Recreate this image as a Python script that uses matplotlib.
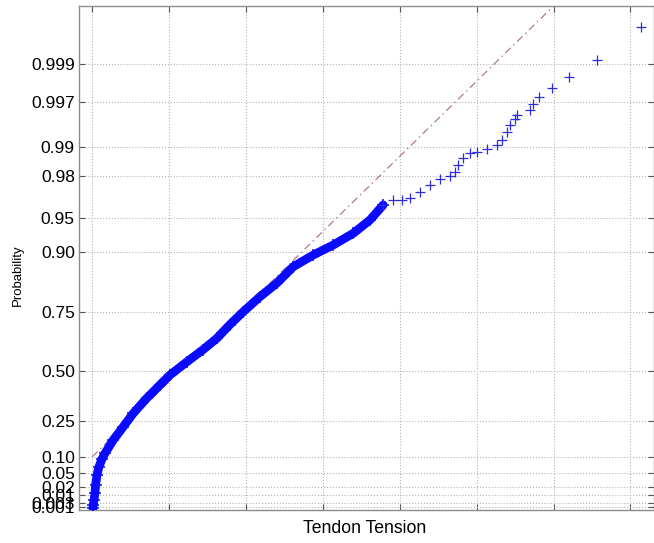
import numpy as np
import matplotlib
matplotlib.use('Agg')
import matplotlib.pyplot as plt
from matplotlib.ticker import NullLocator

plt.rcParams['font.family'] = ['Liberation Sans', 'DejaVu Sans']

# probability axis: tick values, labels and their relative heights
prob_ticks = [0.001, 0.003, 0.01, 0.02, 0.05, 0.10, 0.25, 0.50,
              0.75, 0.90, 0.95, 0.98, 0.99, 0.997, 0.999]
prob_labels = ['0.001', '0.003', '0.01', '0.02', '0.05', '0.10', '0.25', '0.50',
               '0.75', '0.90', '0.95', '0.98', '0.99', '0.997', '0.999']
prob_scale = [-136.0, -132.0, -124.3, -116.3, -102.6, -86.0, -50.3, 0.0,
              59.0, 118.4, 153.0, 194.7, 223.4, 269.0, 306.4]

# sorted tendon tension samples (dense part of the distribution)
tension_dense = [0.009, 0.013, 0.022, 0.035, 0.042, 0.061, 0.087, 0.126, 0.165,
                 0.273, 0.403, 0.533, 0.707, 0.880, 1.010, 1.228, 1.443, 1.618,
                 1.791, 1.964, 2.181, 2.398, 2.614, 2.874, 3.134, 3.394, 3.611,
                 3.784]
prob_dense = [0.00061, 0.0016, 0.0046, 0.0119, 0.0229, 0.0447, 0.0662, 0.0910,
              0.1098, 0.1567, 0.2186, 0.2829, 0.3537, 0.4226, 0.4765, 0.5404,
              0.5974, 0.6456, 0.7027, 0.75, 0.7984, 0.8353, 0.8733, 0.8954,
              0.9133, 0.9313, 0.9475, 0.9621]

# upper tail
tension_tail = [3.784, 3.914, 4.023, 4.131, 4.261, 4.391, 4.522, 4.652, 4.717,
                4.760, 4.824, 4.912, 4.999, 5.129, 5.259, 5.324, 5.389, 5.432,
                5.497, 5.519, 5.692, 5.735, 5.813, 5.974, 6.203, 6.567, 7.131]
prob_tail = [0.9621, 0.9660, 0.9663, 0.9678, 0.9717, 0.9756, 0.9786, 0.9798,
             0.9819, 0.9846, 0.9869, 0.9884, 0.9889, 0.9895, 0.9906, 0.9918,
             0.9934, 0.9944, 0.9953, 0.9957, 0.9963, 0.9968, 0.99741, 0.99798,
             0.99856, 0.99912, 0.99967]

# fitted reference line
ref_x = [0.0, 6.0]
ref_p = [0.10, 0.99982]

lg = np.log(np.array(prob_ticks) / (1 - np.array(prob_ticks)))
hs = np.array(prob_scale)


def forward(p):
    p = np.clip(np.asarray(p, dtype=float), 1e-9, 1 - 1e-9)
    L = np.log(p / (1 - p))
    y = np.interp(L, lg, hs)
    y = np.where(L < lg[0], hs[0] + (L - lg[0]) * (hs[1] - hs[0]) / (lg[1] - lg[0]), y)
    y = np.where(L > lg[-1], hs[-1] + (L - lg[-1]) * (hs[-1] - hs[-2]) / (lg[-1] - lg[-2]), y)
    return y


def inverse(y):
    y = np.asarray(y, dtype=float)
    L = np.interp(y, hs, lg)
    L = np.where(y < hs[0], lg[0] + (y - hs[0]) * (lg[1] - lg[0]) / (hs[1] - hs[0]), L)
    L = np.where(y > hs[-1], lg[-1] + (y - hs[-1]) * (lg[-1] - lg[-2]) / (hs[-1] - hs[-2]), L)
    return 1 / (1 + np.exp(-L))


fig = plt.figure(figsize=(6.54, 5.43), dpi=100)
ax = fig.add_axes([79 / 654, 1 - 510 / 543, (653.5 - 79) / 654, (510 - 6) / 543])
ax.set_yscale('function', functions=(forward, inverse))

ax.plot(tension_dense, prob_dense, '-', color='#0a0aff', lw=6.3,
        solid_capstyle='round', solid_joinstyle='round', zorder=3)
ax.plot(tension_dense, prob_dense, '+', color='#0a0aff', ms=8, mew=1.1, zorder=3)
ax.plot(tension_tail, prob_tail, '+', color='#2c2cd8', ms=6.5, mew=0.9, zorder=3)
ax.plot(ref_x, ref_p, color='#b27a8c', lw=0.9, linestyle=(0, (6, 3, 1.2, 3)), zorder=2)

ax.set_xlim(-0.173, 7.30)
ax.set_ylim(0.000403, 0.99982)
ax.set_xticks(np.arange(0, 8))
ax.set_xticklabels([])
ax.set_yticks(prob_ticks)
ax.set_yticklabels(prob_labels)
ax.yaxis.set_minor_locator(NullLocator())
ax.xaxis.set_minor_locator(NullLocator())

ax.grid(True, linestyle=':', color='#b4b4b4', linewidth=0.8)
ax.tick_params(direction='in', top=True, right=True, length=4, width=0.8,
               color='#555555', labelsize=12.5, pad=3)
for s in ax.spines.values():
    s.set_color('#8c8c8c')
    s.set_linewidth(1.0)

ax.set_xlabel('Tendon Tension', fontsize=12.7)
ax.xaxis.set_label_coords(0.498, -0.02)
ax.set_ylabel('Probability', fontsize=9.5)
ax.yaxis.set_label_coords(-0.096, 0.465)

plt.savefig('out.png', dpi=100)
